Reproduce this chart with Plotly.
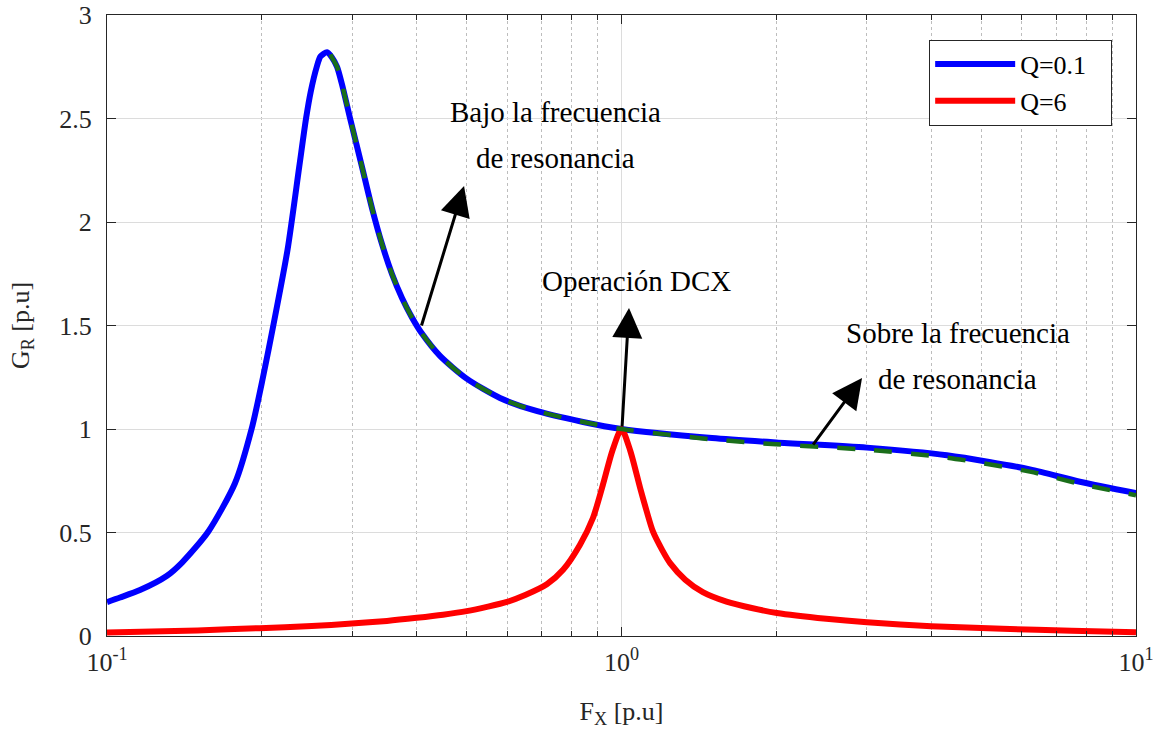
import plotly.graph_objects as go

# ---------------- data ----------------
fx_q01 = [0.100, 0.106, 0.1159, 0.1306, 0.1399, 0.1574, 0.1773, 0.191, 0.201, 0.2105,
          0.2243, 0.2364, 0.2437, 0.2489, 0.2557, 0.2600, 0.2677, 0.2737, 0.280, 0.2862,
          0.2967, 0.3131, 0.3273, 0.3423, 0.3580, 0.3744, 0.3915, 0.4094, 0.4438, 0.5009,
          0.5805, 0.673, 0.842, 1.0, 1.5, 2.0, 3.0, 4.29, 6.22, 7.78, 10.0]
gr_q01 = [0.164, 0.186, 0.222, 0.290, 0.355, 0.505, 0.738, 1.00, 1.25, 1.50,
          1.865, 2.267, 2.50, 2.63, 2.75, 2.80, 2.820, 2.795, 2.749, 2.665,
          2.502, 2.266, 2.068, 1.894, 1.749, 1.633, 1.539, 1.461, 1.353, 1.242,
          1.150, 1.092, 1.034, 1.0, 0.956, 0.935, 0.910, 0.873, 0.805, 0.745, 0.690]

fx_approx = [0.2720, 0.2737, 0.280, 0.2862, 0.2967, 0.3131, 0.3273, 0.3423, 0.3580, 0.3744,
             0.3915, 0.4094, 0.4438, 0.5009, 0.5805, 0.673, 0.842, 1.0, 1.5, 2.0,
             3.0, 4.29, 6.22, 7.78, 10.0]
gr_approx = [2.810, 2.795, 2.749, 2.665, 2.502, 2.266, 2.068, 1.894, 1.749, 1.633,
             1.539, 1.461, 1.353, 1.242, 1.150, 1.092, 1.034, 1.0, 0.950, 0.926,
             0.900, 0.862, 0.794, 0.735, 0.680]

fx_q6 = [0.100, 0.150, 0.198, 0.250, 0.299, 0.350, 0.400, 0.450, 0.500, 0.550,
         0.599, 0.650, 0.716, 0.770, 0.830, 0.880, 0.920, 0.960, 1.0, 1.040,
         1.087, 1.120, 1.151, 1.200, 1.243, 1.330, 1.439, 1.600, 1.800, 2.005,
         2.500, 3.0, 4.0, 5.5, 7.5, 10.0]
gr_q6 = [0.017, 0.027, 0.038, 0.048, 0.060, 0.073, 0.088, 0.103, 0.120, 0.142,
         0.165, 0.198, 0.250, 0.320, 0.440, 0.570, 0.730, 0.895, 1.0, 0.895,
         0.715, 0.600, 0.505, 0.415, 0.352, 0.272, 0.212, 0.166, 0.134, 0.111,
         0.083, 0.066, 0.047, 0.035, 0.025, 0.018]

legend_names = ["Q=0.1", "Q=6"]
y_ticks = [0, 0.5, 1, 1.5, 2, 2.5, 3]
x_major = [0.1, 1, 10]
x_major_text = ["10<sup>-1</sup>", "10<sup>0</sup>", "10<sup>1</sup>"]
x_minor = [0.2, 0.3, 0.4, 0.5, 0.6, 0.7, 0.8, 0.9, 2, 3, 4, 5, 6, 7, 8, 9]

FONT = "Liberation Serif"
AX = "#262626"

fig = go.Figure()
fig.add_trace(go.Scatter(x=fx_q01, y=gr_q01, mode="lines",
                         name=legend_names[0] + "\u00a0\u00a0\u00a0",
                         line=dict(color="#0000ff", width=6, shape="spline", smoothing=0.7)))
fig.add_trace(go.Scatter(x=fx_q6, y=gr_q6, mode="lines", name=legend_names[1],
                         line=dict(color="#ff0000", width=6, shape="spline", smoothing=0.7)))
fig.add_trace(go.Scatter(x=fx_approx, y=gr_approx, mode="lines", showlegend=False,
                         line=dict(color="#1a6e1a", width=4.5, dash="18px,19px",
                                   shape="spline", smoothing=0.7)))

fig.update_xaxes(type="log", range=[-1, 1], tickvals=x_major, ticktext=x_major_text,
                 automargin=False,
                 showgrid=True, gridcolor="#dcdcdc", gridwidth=1,
                 ticks="inside", ticklen=9, tickcolor=AX, tickwidth=1,
                 showline=True, linecolor=AX, linewidth=1, mirror="ticks",
                 tickfont=dict(family=FONT, size=26, color=AX),
                 ticklabelstandoff=3,
                 minor=dict(tickvals=x_minor, ticks="inside", ticklen=5, tickcolor=AX,
                            showgrid=True, gridcolor="#bdbdbd", griddash="dot", gridwidth=1),
                 title=dict(text="F<sub>X</sub> [p.u]", font=dict(family=FONT, size=26, color=AX),
                            standoff=25),
                 zeroline=False)
fig.update_yaxes(range=[0, 3], tickvals=y_ticks,
                 automargin=False,
                 showgrid=True, gridcolor="#dcdcdc", gridwidth=1,
                 ticks="inside", ticklen=9, tickcolor=AX, tickwidth=1,
                 showline=True, linecolor=AX, linewidth=1, mirror="ticks",
                 tickfont=dict(family=FONT, size=26, color=AX),
                 ticklabelstandoff=9,
                 title=dict(text="G<sub>R</sub> [p.u]", font=dict(family=FONT, size=26, color=AX),
                            standoff=22),
                 zeroline=False)

# arrows: (head log10 x, head y, tail offset px)
arrows = [(-0.306, 2.174, -43, 141),
          (0.0146, 1.585, -7, 120),
          (0.4675, 1.246, -50, 68)]
for hx, hy, ax, ay in arrows:
    fig.add_annotation(x=hx, y=hy, ax=ax, ay=ay, xref="x", yref="y", text="",
                       showarrow=True, arrowhead=2, arrowsize=2.0, arrowwidth=3,
                       arrowcolor="#000000")

labels = [("Bajo la frecuencia", -0.1292, 2.531),
          ("de resonancia", -0.1292, 2.309),
          ("Operación DCX", 0.0301, 1.715),
          ("Sobre la frecuencia", 0.654, 1.464),
          ("de resonancia", 0.654, 1.242)]
for t, lx, ly in labels:
    fig.add_annotation(x=lx, y=ly, xref="x", yref="y", text=t, showarrow=False,
                       font=dict(family=FONT, size=29, color="#000000"),
                       xanchor="center", yanchor="middle")

fig.update_layout(
    width=1158, height=734,
    margin=dict(l=107, r=22, t=15, b=98, autoexpand=False),
    paper_bgcolor="white", plot_bgcolor="white",
    font=dict(family=FONT, color=AX),
    legend=dict(x=0.799, y=0.9605, xanchor="left", yanchor="top",
                bgcolor="white", bordercolor=AX, borderwidth=1,
                font=dict(family=FONT, size=26, color="#000000"),
                itemwidth=80, tracegroupgap=0),
    showlegend=True,
)

fig.write_html("out.html")
